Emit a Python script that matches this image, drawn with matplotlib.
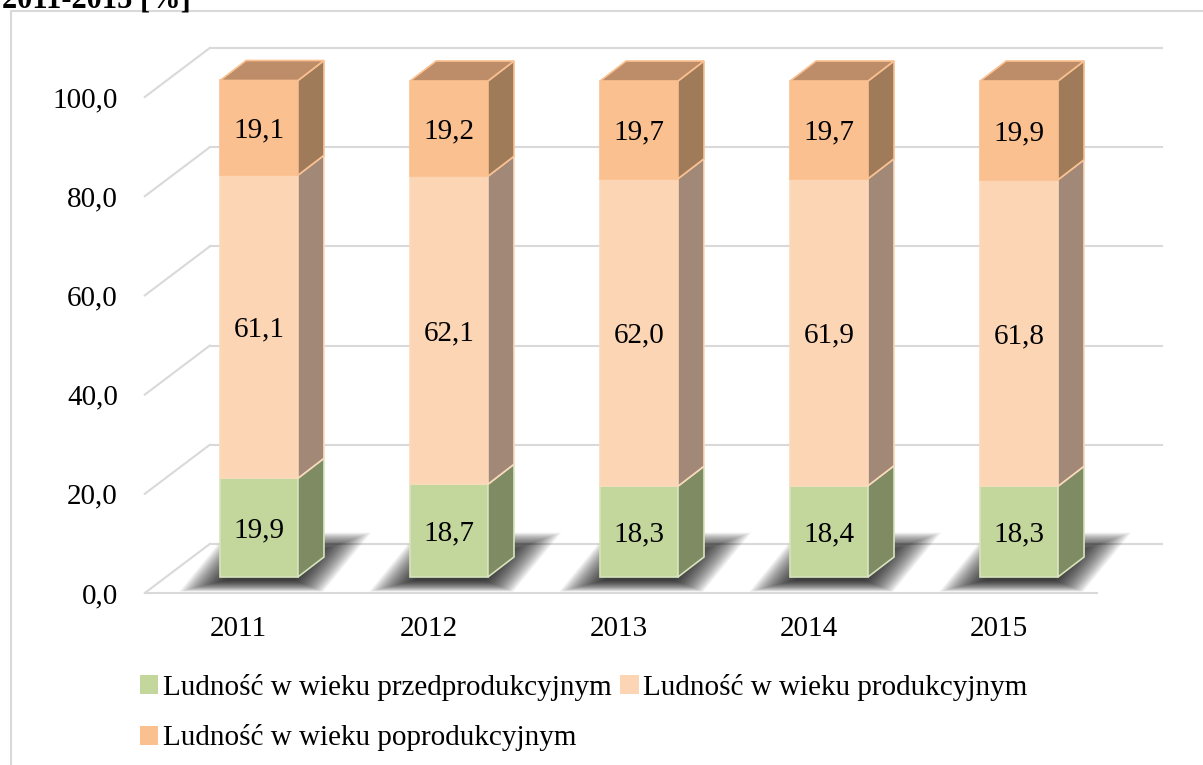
import matplotlib.pyplot as plt
from matplotlib.patches import Polygon, Patch
from matplotlib.lines import Line2D
import numpy as np

plt.rcParams['font.family'] = ['Liberation Serif', 'DejaVu Serif']

# dane
years = ['2011', '2012', '2013', '2014', '2015']
przed = [19.9, 18.7, 18.3, 18.4, 18.3]
prod = [61.1, 62.1, 62.0, 61.9, 61.8]
poprod = [19.1, 19.2, 19.7, 19.7, 19.9]
series = [przed, prod, poprod]
names = ['Ludność w wieku przedprodukcyjnym',
         'Ludność w wieku produkcyjnym',
         'Ludność w wieku poprodukcyjnym']
y_ticks = [0, 20, 40, 60, 80, 100]

# kolory: front, bok, gora, krawedz
front_c = ['#C3D69B', '#FCD5B4', '#FAC090']
side_c = ['#7F8B62', '#A28877', '#A07B59']
top_c = ['#A3B07C', '#C9A98F', '#BD8D69']
edge_c = ['#D7E4BD', '#FCD9BC', '#FAC090']
grid_c = '#D9D9D9'

fig = plt.figure(figsize=(12.03, 7.65), dpi=100)
ax = fig.add_axes([0, 0, 1, 1])
ax.set_xlim(-1.292, 5.039)
ax.set_ylim(-34.68, 119.56)
ax.axis('off')

# geometria 3D (przesuniecia glebokosci w jednostkach danych)
WX, WY = 0.342, 9.88      # tylna sciana
FX, FY = 0.071, 3.23      # przednia sciana slupka
SX, SY = 0.137, 4.03      # glebokosc slupka
hw = 0.205
x0, x1 = -0.53, 4.48

# siatka / sciany
for v in y_ticks:
    ax.plot([x0 + WX, x1 + WX], [v + WY, v + WY], color=grid_c, lw=1.5, zorder=1)
    ax.plot([x0, x0 + WX], [v, v + WY], color=grid_c, lw=1.5, zorder=1)
    ax.text(x0 - 0.142, v, f'{v:.1f}'.replace('.', ','), ha='right', va='center_baseline',
            fontsize=21)
ax.plot([x0, x1], [0, 0], color=grid_c, lw=1.5, zorder=1)

for i, yr in enumerate(years):
    ax.text(i - 0.037, -6.6, yr, ha='center', va='center_baseline', fontsize=21)

    # miekki cien pod slupkiem
    xl, xr = i + FX - hw, i + FX + hw
    foot = np.array([[xl, FY], [xr, FY], [xr + SX, FY + SY], [xl + SX, FY + SY]])
    c = foot.mean(axis=0) + np.array([-0.02, -0.5])
    for s in np.linspace(1.85, 0.9, 32):
        pts = c + (foot - c) * np.array([s, s * 1.6])
        ax.add_patch(Polygon(pts, closed=True, facecolor='black', edgecolor='none',
                             alpha=0.04, zorder=2))

    bottom = 0
    for k, vals in enumerate(series):
        val = vals[i]
        top = bottom + val
        ax.add_patch(Polygon([[xl, bottom + FY], [xr, bottom + FY], [xr, top + FY], [xl, top + FY]],
                             closed=True, facecolor=front_c[k], edgecolor=edge_c[k], lw=1.2, zorder=3))
        ax.add_patch(Polygon([[xr, bottom + FY], [xr + SX, bottom + FY + SY],
                              [xr + SX, top + FY + SY], [xr, top + FY]],
                             closed=True, facecolor=side_c[k], edgecolor=edge_c[k], lw=1.2, zorder=3))
        if k == len(series) - 1:
            ax.add_patch(Polygon([[xl, top + FY], [xr, top + FY], [xr + SX, top + FY + SY],
                                  [xl + SX, top + FY + SY]],
                                 closed=True, facecolor=top_c[k], edgecolor=edge_c[k], lw=1.2, zorder=3))
        ax.text(i + FX, bottom + FY + val / 2, f'{val:.1f}'.replace('.', ','),
                ha='center', va='center_baseline', fontsize=21, zorder=4)
        bottom = top

# ramka wykresu
fig.add_artist(Line2D([11 / 1203, 11 / 1203, 1], [0, 1 - 11 / 765, 1 - 11 / 765],
                      transform=fig.transFigure, color=grid_c, lw=1.5))

# tytul (uciety u gory, jak w oryginale)
fig.text(2 / 1203, 1 - 7 / 765, '2011-2015 [%]', fontsize=22, fontweight='bold',
         ha='left', va='baseline')

# legenda: 2 kolumny, wypelniane kolumnami
order = [0, 2, 1]
handles = [Patch(facecolor=front_c[k], edgecolor='none') for k in order]
labels = [names[k] for k in order]
fig.legend(handles, labels, loc='upper left', bbox_to_anchor=(140 / 1203, 1 - 674 / 765),
           ncol=2, frameon=False, fontsize=21, handlelength=0.62, handleheight=0.62,
           handletextpad=0.17, columnspacing=0.3, labelspacing=0.8,
           borderaxespad=0, borderpad=0)

plt.savefig('out.png', dpi=100, facecolor='white')
plt.close()
